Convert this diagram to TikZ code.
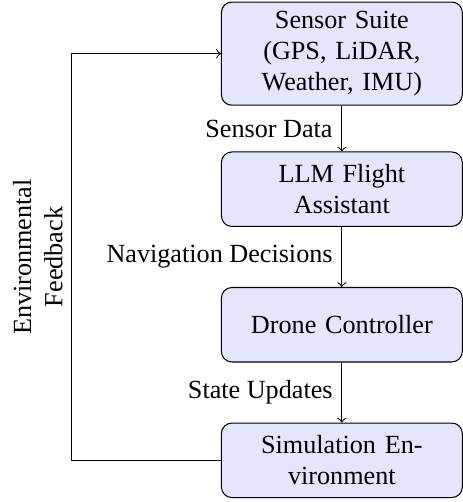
\documentclass[tikz,border=0pt]{standalone}
\usepackage{fontspec}
\setmainfont{Liberation Serif}
\usetikzlibrary{positioning}

\begin{document}
\begin{tikzpicture}[
    block/.style={draw, rounded corners=4pt, fill=blue!10, text width=3cm, minimum height=1cm, align=center},
    arr/.style={->}
]
\useasboundingbox (-4.59,0.72) rectangle (1.624,-6.02);
\node[block] (sensor) at (0,0) {Sensor Suite\\(GPS, LiDAR,\\Weather, IMU)};
\node[block] (llm) at (0,-1.82) {LLM Flight Assistant};
\node[block] (ctrl) at (0,-3.64) {Drone Controller};
\node[block] (sim) at (0,-5.46) {Simulation En-\\vironment};

\draw[arr] (sensor) -- node[left] {Sensor Data} (llm);
\draw[arr] (llm) -- node[left] {Navigation Decisions} (ctrl);
\draw[arr] (ctrl) -- node[left] {State Updates} (sim);
\draw[arr] (sim.west) -- ++(-2,0) |- node[pos=0.25, above, rotate=90, align=center] {Environmental\\Feedback} (sensor.west);
\end{tikzpicture}
\end{document}
